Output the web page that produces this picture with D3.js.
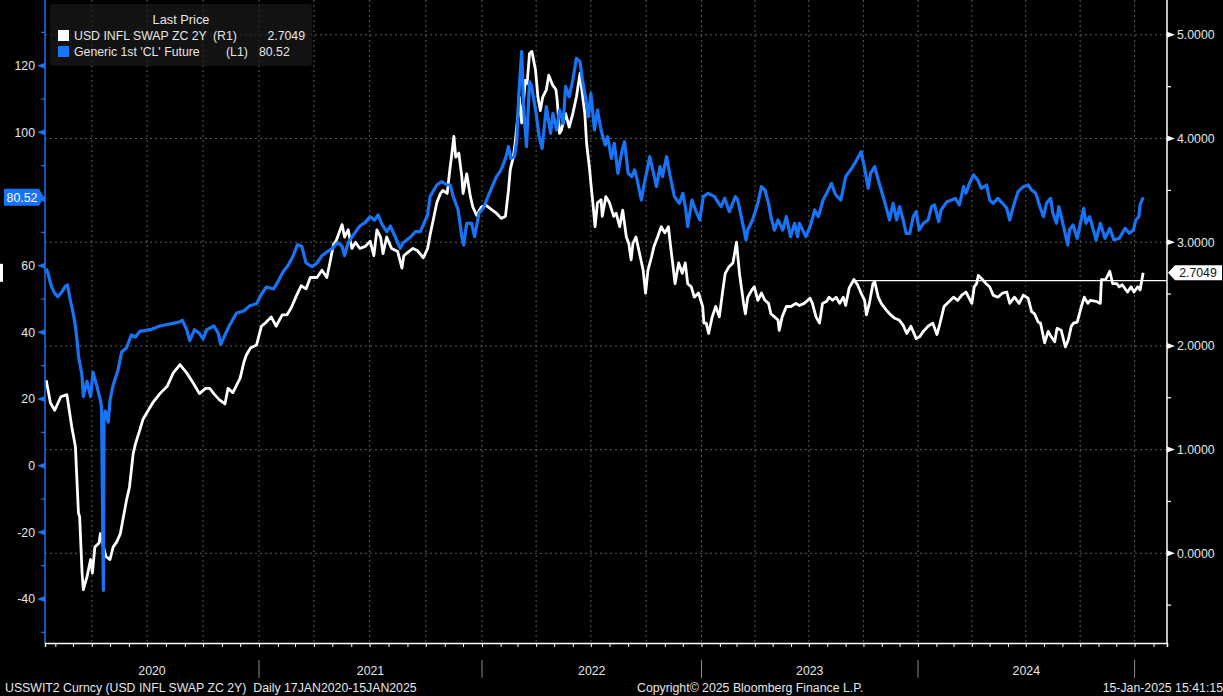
<!DOCTYPE html>
<meta charset="utf-8">
<head>
	<script src="https://cdn.jsdelivr.net/npm/d3@7/dist/d3.min.js"></script>
	<style>
		body { margin: 0; background: #000; }
		svg { display: block; }
		text { font-family: "Liberation Sans", Arial, sans-serif; font-size: 12.3px; fill: #e6e6e6; }
	</style>
</head>
<body>
	<svg id="svg"></svg>
</body>
<script>
	// Generic 1st 'CL' Future (left axis)
	var oilDates = [
		"2020-01-17","2020-01-20","2020-01-24","2020-01-27","2020-01-31","2020-02-05","2020-02-12","2020-02-17","2020-02-21","2020-02-25",
		"2020-03-02","2020-03-05","2020-03-09","2020-03-10","2020-03-16","2020-03-18","2020-03-24","2020-03-30","2020-04-03","2020-04-09",
		"2020-04-15","2020-04-17","2020-04-20","2020-04-21","2020-04-23","2020-04-28","2020-05-01","2020-05-06","2020-05-14","2020-05-20",
		"2020-05-28","2020-06-05","2020-06-12","2020-06-19","2020-07-06","2020-07-22","2020-08-07","2020-08-21","2020-08-28","2020-09-04",
		"2020-09-09","2020-09-17","2020-09-25","2020-10-01","2020-10-07","2020-10-19","2020-10-26","2020-10-30","2020-11-06","2020-11-13",
		"2020-11-25","2020-12-07","2020-12-17","2020-12-28",
		"2021-01-05","2021-01-13","2021-01-25","2021-02-01","2021-02-09","2021-02-18","2021-02-26","2021-03-05","2021-03-12","2021-03-19",
		"2021-03-29","2021-04-06","2021-04-14","2021-04-22","2021-05-01","2021-05-10","2021-05-17","2021-05-21","2021-05-27","2021-06-04",
		"2021-06-15","2021-06-24","2021-07-02","2021-07-09","2021-07-15","2021-07-21","2021-07-29","2021-08-04","2021-08-12","2021-08-20",
		"2021-08-25","2021-09-06","2021-09-14","2021-09-22","2021-10-04","2021-10-08","2021-10-19","2021-10-27","2021-11-05","2021-11-10",
		"2021-11-15","2021-11-23","2021-11-29","2021-12-02","2021-12-07","2021-12-15","2021-12-20","2021-12-27",
		"2022-01-03","2022-01-11","2022-01-18","2022-01-25","2022-01-31","2022-02-04","2022-02-10","2022-02-14","2022-02-18","2022-02-24",
		"2022-02-28","2022-03-03","2022-03-08","2022-03-11","2022-03-16","2022-03-21","2022-03-24","2022-04-01","2022-04-06","2022-04-11",
		"2022-04-18","2022-04-25","2022-04-29","2022-05-05","2022-05-10","2022-05-16","2022-05-20","2022-05-26","2022-06-01","2022-06-07",
		"2022-06-13","2022-06-17","2022-06-22","2022-06-27","2022-07-01","2022-07-07","2022-07-12","2022-07-18","2022-07-25","2022-07-29",
		"2022-08-04","2022-08-09","2022-08-15","2022-08-22","2022-08-26","2022-09-01","2022-09-07","2022-09-12","2022-09-16","2022-09-23",
		"2022-09-28","2022-10-07","2022-10-12","2022-10-18","2022-10-24","2022-10-28","2022-11-04","2022-11-10","2022-11-17","2022-11-25",
		"2022-12-01","2022-12-06","2022-12-09","2022-12-16","2022-12-22","2022-12-29",
		"2023-01-04","2023-01-12","2023-01-23","2023-01-30","2023-02-03","2023-02-09","2023-02-17","2023-02-27","2023-03-03","2023-03-09",
		"2023-03-17","2023-03-20","2023-03-28","2023-04-06","2023-04-12","2023-04-18","2023-04-24","2023-04-28","2023-05-04","2023-05-10",
		"2023-05-18","2023-05-24","2023-05-31","2023-06-07","2023-06-12","2023-06-15","2023-06-26","2023-07-03","2023-07-11","2023-07-17",
		"2023-07-25","2023-07-31","2023-08-08","2023-08-14","2023-08-18","2023-08-24","2023-09-01","2023-09-11","2023-09-18","2023-09-27",
		"2023-10-02","2023-10-09","2023-10-13","2023-10-20","2023-10-26","2023-10-31","2023-11-08","2023-11-14","2023-11-20","2023-11-26",
		"2023-12-01","2023-12-07","2023-12-12","2023-12-18","2023-12-24","2023-12-29",
		"2024-01-03","2024-01-10","2024-01-18","2024-01-24","2024-01-29","2024-02-05","2024-02-09","2024-02-19","2024-02-27","2024-03-04",
		"2024-03-11","2024-03-18","2024-03-22","2024-03-28","2024-04-04","2024-04-11","2024-04-17","2024-04-26","2024-05-01","2024-05-07",
		"2024-05-15","2024-05-23","2024-05-30","2024-06-04","2024-06-10","2024-06-18","2024-06-27","2024-07-05","2024-07-11","2024-07-18",
		"2024-07-25","2024-07-31","2024-08-05","2024-08-12","2024-08-16","2024-08-22","2024-08-26","2024-09-03","2024-09-10","2024-09-13",
		"2024-09-19","2024-09-26","2024-10-07","2024-10-11","2024-10-17","2024-10-28","2024-11-04","2024-11-12","2024-11-20","2024-11-27",
		"2024-12-06","2024-12-16","2024-12-23","2024-12-30",
		"2025-01-03","2025-01-08","2025-01-10","2025-01-15"
	];
	var oilValues = [
		59.1, 57.7, 54.7, 53.2, 51.7, 50.7, 52.2, 53.7, 54.2, 50.2,
		45.2, 41.9, 35.3, 33.0, 26.9, 20.8, 25.3, 20.8, 28.0, 24.1,
		19.7, 17.5, -37.4, 13.0, 16.4, 13.1, 19.7, 24.1, 28.6, 34.1,
		35.3, 39.2, 38.6, 40.3, 40.8, 41.9, 42.5, 43.0, 43.6, 40.8,
		37.5, 40.8, 39.7, 38.0, 40.8, 41.9, 39.7, 36.4, 39.2, 41.9,
		45.8, 46.4, 48.0, 48.6,
		51.4, 53.6, 53.0, 55.2, 58.0, 60.2, 63.0, 66.3, 65.8, 60.8,
		59.7, 60.8, 63.0, 64.1, 65.2, 66.9, 65.8, 63.0, 66.9, 69.1,
		71.9, 73.0, 74.7, 73.6, 75.2, 72.5, 70.2, 71.9, 68.6, 65.2,
		66.9, 68.6, 70.2, 70.2, 75.2, 80.7, 84.2, 85.2, 84.2, 84.2,
		80.7, 76.7, 68.7, 66.2, 72.7, 72.7, 68.7, 75.7,
		77.2, 80.7, 83.7, 86.7, 88.2, 89.7, 92.7, 95.7, 92.2, 92.7,
		97.7, 110.7, 124.2, 107.7, 95.7, 115.2, 114.2, 105.7, 98.7, 95.2,
		107.7, 99.7, 105.7, 100.7, 106.7, 102.7, 113.7, 110.7, 115.7, 122.2,
		121.2, 115.7, 110.7, 104.7, 111.7, 100.7, 106.7, 100.7, 96.2, 98.7,
		92.2, 96.7, 87.7, 94.7, 97.2, 87.7, 86.7, 88.7, 85.7, 79.7,
		84.7, 92.7, 88.7, 83.7, 89.7, 86.7, 92.7, 86.7, 80.7, 78.7,
		81.7, 76.7, 71.7, 79.7, 76.7, 73.7,
		80.7, 81.7, 80.7, 78.7, 77.7, 80.2, 76.2, 80.7, 79.7, 74.7,
		67.7, 70.7, 73.7, 78.7, 83.7, 82.7, 78.7, 74.7, 70.7, 73.7,
		70.7, 74.7, 68.7, 72.7, 68.7, 72.7, 68.7, 71.7, 76.7, 74.7,
		79.7, 81.7, 84.7, 81.7, 80.7, 79.7, 86.7, 89.2, 91.2, 94.2,
		90.2, 83.2, 87.7, 89.7, 85.7, 82.7, 77.7, 73.7, 78.7, 73.7,
		77.7, 73.7, 69.7, 69.7, 74.7, 76.2,
		70.7, 72.7, 73.7, 77.7, 78.2, 73.2, 76.7, 79.2, 79.7, 80.2,
		78.2, 83.7, 81.7, 84.7, 87.2, 85.7, 83.2, 84.2, 79.7, 78.7,
		80.2, 78.7, 77.2, 73.7, 77.7, 82.2, 83.7, 84.2, 82.7, 81.7,
		77.7, 74.7, 78.7, 80.2, 75.7, 72.7, 77.7, 71.7, 66.2, 70.7,
		72.2, 68.2, 77.2, 72.7, 74.7, 67.7, 72.7, 68.2, 71.2, 67.7,
		68.2, 71.2, 69.7, 70.7,
		73.7, 74.7, 78.2, 80.52
	];

	// USD INFL SWAP ZC 2Y (right axis)
	var swapDates = [
		"2020-01-17","2020-01-24","2020-01-31","2020-02-10","2020-02-20","2020-02-28","2020-03-05","2020-03-10","2020-03-12","2020-03-16",
		"2020-03-18","2020-03-24","2020-03-30","2020-04-02","2020-04-06","2020-04-13","2020-04-15","2020-04-24","2020-05-01","2020-05-06",
		"2020-05-12","2020-05-18","2020-05-22","2020-05-28","2020-06-02","2020-06-08","2020-06-12","2020-06-19","2020-06-24","2020-06-30",
		"2020-07-10","2020-07-22","2020-08-03","2020-08-13","2020-08-24","2020-09-04","2020-09-15","2020-09-25","2020-10-05","2020-10-12",
		"2020-10-20","2020-10-28","2020-11-06","2020-11-11","2020-11-19","2020-11-25","2020-12-01","2020-12-07","2020-12-11","2020-12-18",
		"2020-12-28",
		"2021-01-05","2021-01-13","2021-01-21","2021-01-29","2021-02-08","2021-02-16","2021-02-23","2021-03-03","2021-03-11","2021-03-19",
		"2021-03-26","2021-04-06","2021-04-14","2021-04-22","2021-04-27","2021-05-03","2021-05-07","2021-05-17","2021-05-21","2021-05-27",
		"2021-06-02","2021-06-08","2021-06-15","2021-06-24","2021-07-02","2021-07-08","2021-07-13","2021-07-19","2021-07-23","2021-07-29",
		"2021-08-06","2021-08-16","2021-08-23","2021-08-26","2021-09-03","2021-09-10","2021-09-17","2021-09-27","2021-10-04","2021-10-08",
		"2021-10-13","2021-10-19","2021-10-25","2021-10-29","2021-11-05","2021-11-10","2021-11-12","2021-11-16","2021-11-19","2021-11-24",
		"2021-11-29","2021-12-01","2021-12-07","2021-12-13","2021-12-17","2021-12-23","2021-12-31",
		"2022-01-07","2022-01-18","2022-01-25","2022-02-02","2022-02-09","2022-02-14","2022-02-17","2022-02-22","2022-02-25","2022-03-02",
		"2022-03-04","2022-03-08","2022-03-14","2022-03-17","2022-03-21","2022-03-25","2022-03-31","2022-04-04","2022-04-08","2022-04-12",
		"2022-04-18","2022-04-22","2022-04-28","2022-05-04","2022-05-06","2022-05-10","2022-05-13","2022-05-20","2022-05-26","2022-06-01",
		"2022-06-07","2022-06-13","2022-06-16","2022-06-21","2022-06-24","2022-06-29","2022-07-01","2022-07-05","2022-07-08","2022-07-12",
		"2022-07-18","2022-07-20","2022-07-26","2022-08-01","2022-08-08","2022-08-12","2022-08-18","2022-08-23","2022-08-29","2022-09-02",
		"2022-09-06","2022-09-09","2022-09-14","2022-09-20","2022-09-26","2022-09-30","2022-10-04","2022-10-10","2022-10-14","2022-10-20",
		"2022-10-26","2022-11-01","2022-11-07","2022-11-10","2022-11-14","2022-11-18","2022-11-24","2022-11-30","2022-12-05","2022-12-09",
		"2022-12-15","2022-12-20","2022-12-27",
		"2023-01-03","2023-01-05","2023-01-09","2023-01-13","2023-01-19","2023-01-25","2023-01-31","2023-02-06","2023-02-10","2023-02-16",
		"2023-02-23","2023-03-01","2023-03-06","2023-03-13","2023-03-16","2023-03-20","2023-03-27","2023-03-31","2023-04-06","2023-04-12",
		"2023-04-18","2023-04-24","2023-04-28","2023-05-04","2023-05-10","2023-05-12","2023-05-17","2023-05-24","2023-06-01","2023-06-09",
		"2023-06-15","2023-06-23","2023-07-03","2023-07-07","2023-07-13","2023-07-19","2023-07-24","2023-07-31","2023-08-04","2023-08-10",
		"2023-08-16","2023-08-22","2023-08-28","2023-09-01","2023-09-07","2023-09-15","2023-09-21","2023-09-27","2023-10-03","2023-10-06",
		"2023-10-11","2023-10-17","2023-10-20","2023-10-26","2023-10-31","2023-11-08","2023-11-14","2023-11-22","2023-11-30","2023-12-07",
		"2023-12-13","2023-12-20","2023-12-29",
		"2024-01-04","2024-01-10","2024-01-18","2024-01-26","2024-02-02","2024-02-06","2024-02-14","2024-02-23","2024-03-01","2024-03-08",
		"2024-03-15","2024-03-22","2024-04-01","2024-04-05","2024-04-09","2024-04-12","2024-04-19","2024-04-25","2024-05-01","2024-05-07",
		"2024-05-15","2024-05-23","2024-05-30","2024-06-04","2024-06-12","2024-06-20","2024-06-27","2024-07-05","2024-07-11","2024-07-16",
		"2024-07-22","2024-07-26","2024-08-02","2024-08-08","2024-08-13","2024-08-19","2024-08-23","2024-08-30","2024-09-06","2024-09-11",
		"2024-09-16","2024-09-20","2024-09-26","2024-10-03","2024-10-08","2024-10-14","2024-10-18","2024-10-28","2024-11-04","2024-11-06",
		"2024-11-13","2024-11-20","2024-11-25","2024-12-02","2024-12-06","2024-12-11","2024-12-20","2024-12-26","2024-12-31",
		"2025-01-06","2025-01-10","2025-01-15"
	];
	var swapValues = [
		1.67, 1.45, 1.38, 1.51, 1.53, 1.22, 1.03, 0.39, 0.35, -0.19,
		-0.35, -0.23, -0.06, -0.19, 0.06, 0.10, 0.19, -0.03, -0.06, 0.06,
		0.11, 0.19, 0.32, 0.51, 0.64, 0.96, 1.06, 1.19, 1.29, 1.35,
		1.45, 1.54, 1.61, 1.74, 1.82, 1.74, 1.64, 1.54, 1.59, 1.59,
		1.53, 1.48, 1.44, 1.59, 1.55, 1.62, 1.69, 1.84, 1.91, 1.98,
		2.01,
		2.19, 2.23, 2.28, 2.19, 2.30, 2.30, 2.37, 2.48, 2.58, 2.55,
		2.66, 2.66, 2.73, 2.66, 2.80, 2.98, 3.01, 3.17, 3.05, 3.12,
		2.94, 3.00, 2.94, 2.96, 3.01, 2.87, 3.12, 3.05, 2.89, 3.05,
		2.94, 2.91, 2.75, 2.87, 2.91, 2.94, 2.92, 2.85, 2.94, 3.07,
		3.21, 3.38, 3.47, 3.50, 3.47, 3.73, 3.82, 4.02, 3.82, 3.86,
		3.63, 3.47, 3.66, 3.44, 3.34, 3.26, 3.34,
		3.36, 3.31, 3.28, 3.23, 3.25, 3.50, 3.70, 3.82, 3.95, 4.24,
		4.40, 4.15, 4.56, 4.53, 4.82, 4.84, 4.66, 4.40, 4.27, 4.40,
		4.47, 4.61, 4.52, 4.47, 4.37, 4.05, 4.08, 4.24, 4.11, 4.24,
		4.40, 4.63, 4.47, 4.24, 3.95, 3.70, 3.57, 3.34, 3.15, 3.38,
		3.41, 3.25, 3.44, 3.38, 3.25, 3.28, 3.15, 3.31, 3.05, 2.99,
		2.83, 2.99, 3.05, 2.89, 2.73, 2.51, 2.73, 2.86, 2.96, 3.05,
		3.15, 3.09, 3.15, 2.99, 2.80, 2.60, 2.80, 2.70, 2.80, 2.60,
		2.57, 2.47, 2.51,
		2.38, 2.22, 2.22, 2.12, 2.28, 2.38, 2.28, 2.54, 2.70, 2.76,
		2.80, 3.00, 2.70, 2.41, 2.31, 2.47, 2.54, 2.57, 2.44, 2.51,
		2.44, 2.41, 2.31, 2.28, 2.25, 2.15, 2.28, 2.38, 2.38, 2.41,
		2.39, 2.41, 2.46, 2.41, 2.28, 2.22, 2.41, 2.43, 2.47, 2.44,
		2.47, 2.41, 2.47, 2.39, 2.56, 2.64, 2.59, 2.51, 2.44, 2.30,
		2.41, 2.60, 2.62, 2.47, 2.41, 2.35, 2.31, 2.27, 2.25, 2.20,
		2.12, 2.19, 2.07,
		2.09, 2.14, 2.19, 2.22, 2.11, 2.19, 2.38, 2.43, 2.47, 2.44,
		2.49, 2.52, 2.41, 2.57, 2.60, 2.68, 2.64, 2.60, 2.57, 2.49,
		2.47, 2.51, 2.52, 2.41, 2.47, 2.41, 2.49, 2.46, 2.33, 2.31,
		2.23, 2.22, 2.03, 2.14, 2.09, 2.04, 2.17, 2.15, 1.99, 2.06,
		2.19, 2.22, 2.23, 2.38, 2.47, 2.41, 2.44, 2.43, 2.41, 2.64,
		2.64, 2.72, 2.60, 2.60, 2.57, 2.59, 2.52, 2.57, 2.52,
		2.57, 2.54, 2.7049
	];

	// axis ticks (80 sits under the last-price tag, so it has no label)
	var leftTicks = [-40, -20, 0, 20, 40, 60, 80, 100, 120];
	var leftLabels = [-40, -20, 0, 20, 40, 60, 100, 120];
	var leftMinor = [-50, -30, -10, 10, 30, 50, 70, 90, 110, 130];
	var rightTicks = [0, 1, 2, 3, 4, 5];
	var rightMinor = [-0.5, 0.5, 1.5, 2.5, 3.5, 4.5];
	var yearLabels = ["2020", "2021", "2022", "2023", "2024"];

	var lastOil = 80.52, lastSwap = 2.7049;
	var refLevel = 2.63, refStart = "2023-09-15";

	var width = 1223, height = 696;
	var left = 45, right = 1167, bottom = 643;
	var blue = "#1874f6", grid = "#5a5a5a";

	var parse = d3.timeParse("%Y-%m-%d");

	// the time axis runs on trading days, so each year gets its own width
	var axisDates = ["2020-01-15", "2021-01-01", "2022-01-01", "2023-01-01", "2024-01-01", "2025-01-01", "2025-02-23"].map(parse);
	var x = d3.scaleTime().domain(axisDates).range([left, 259, 482, 701.5, 918, 1134.6, right]);
	var yL = d3.scaleLinear().domain([-53.2, 139.7]).range([bottom, 0]);
	var yR = d3.scaleLinear().domain([-0.865, 5.336]).range([bottom, 0]);

	var oil = oilDates.map((d, i) => ({ date: parse(d), v: oilValues[i] }));
	var swap = swapDates.map((d, i) => ({ date: parse(d), v: swapValues[i] }));

	var svg = d3.select("#svg")
		.attr("width", width)
		.attr("height", height)
		.style("background-color", "#000");

	// grid
	var quarters = d3.timeMonth.every(3).range(parse("2020-04-01"), parse("2025-01-02"));
	svg.append("g").selectAll("line").data(quarters).join("line")
		.attr("x1", d => x(d)).attr("x2", d => x(d))
		.attr("y1", 0).attr("y2", bottom)
		.attr("stroke", grid).attr("stroke-dasharray", "2,3");
	svg.append("g").selectAll("line").data(rightTicks).join("line")
		.attr("x1", left).attr("x2", right)
		.attr("y1", d => yR(d)).attr("y2", d => yR(d))
		.attr("stroke", grid).attr("stroke-dasharray", "2,3");

	// legend box (semi transparent, grid shows through)
	var lg = svg.append("g");
	lg.append("rect").attr("x", 50).attr("y", 4).attr("width", 262).attr("height", 62).attr("rx", 3)
		.attr("fill", "rgba(26,26,26,0.7)");
	lg.append("text").attr("x", 181).attr("y", 24).attr("text-anchor", "middle").style("font-size", "12.8px").text("Last Price");
	lg.append("rect").attr("x", 58).attr("y", 30).attr("width", 11).attr("height", 11).attr("fill", "#fff");
	lg.append("rect").attr("x", 58).attr("y", 46).attr("width", 11).attr("height", 11).attr("fill", blue);
	lg.append("text").attr("x", 74).attr("y", 40).text("USD INFL SWAP ZC 2Y");
	lg.append("text").attr("x", 213).attr("y", 40).text("(R1)");
	lg.append("text").attr("x", 305).attr("y", 40).attr("text-anchor", "end").text(lastSwap);
	lg.append("text").attr("x", 74).attr("y", 56).text("Generic 1st 'CL' Future");
	lg.append("text").attr("x", 226).attr("y", 56).text("(L1)");
	lg.append("text").attr("x", 259).attr("y", 56).text(lastOil);

	// series
	var line = yScale => d3.line().x(d => x(d.date)).y(d => yScale(d.v));
	svg.append("path").datum(swap)
		.attr("d", line(yR))
		.attr("fill", "none").attr("stroke", "#fff").attr("stroke-width", 2.8)
		.attr("stroke-linejoin", "round");
	svg.append("path").datum(oil)
		.attr("d", line(yL))
		.attr("fill", "none").attr("stroke", blue).attr("stroke-width", 3.2)
		.attr("stroke-linejoin", "round");

	// horizontal level line
	svg.append("line")
		.attr("x1", x(parse(refStart))).attr("x2", right)
		.attr("y1", yR(refLevel)).attr("y2", yR(refLevel))
		.attr("stroke", "#fff").attr("stroke-width", 1.2);

	// left axis
	var gl = svg.append("g");
	gl.append("line").attr("x1", left).attr("x2", left).attr("y1", 0).attr("y2", bottom)
		.attr("stroke", blue).attr("stroke-width", 1.5);
	gl.selectAll(".mn").data(leftMinor).join("line")
		.attr("x1", left - 4).attr("x2", left)
		.attr("y1", d => yL(d)).attr("y2", d => yL(d))
		.attr("stroke", blue).attr("stroke-width", 1.2);
	gl.selectAll(".tk").data(leftTicks).join("path")
		.attr("d", d => "M" + left + "," + (yL(d) - 3) + "L" + (left - 8) + "," + yL(d) + "L" + left + "," + (yL(d) + 3) + "Z")
		.attr("fill", blue);
	gl.selectAll(".lb").data(leftLabels).join("text")
		.attr("x", left - 10).attr("y", d => yL(d)).attr("dy", "0.35em")
		.attr("text-anchor", "end").text(d => d);

	// right axis
	var gr = svg.append("g");
	gr.append("line").attr("x1", right).attr("x2", right).attr("y1", 0).attr("y2", bottom)
		.attr("stroke", "#fff").attr("stroke-width", 1.5);
	gr.selectAll(".mn").data(rightMinor).join("line")
		.attr("x1", right).attr("x2", right + 4)
		.attr("y1", d => yR(d)).attr("y2", d => yR(d))
		.attr("stroke", "#fff").attr("stroke-width", 1.2);
	gr.selectAll(".tk").data(rightTicks).join("path")
		.attr("d", d => "M" + right + "," + (yR(d) - 3) + "L" + (right + 8) + "," + yR(d) + "L" + right + "," + (yR(d) + 3) + "Z")
		.attr("fill", "#fff");
	gr.selectAll(".lb").data(rightTicks).join("text")
		.attr("x", right + 10).attr("y", d => yR(d)).attr("dy", "0.35em")
		.text(d => d3.format(".4f")(d));

	// bottom axis
	var months = d3.timeMonth.range(parse("2020-02-01"), parse("2025-02-02"));
	svg.append("g")
		.attr("transform", "translate(0," + bottom + ")")
		.call(d3.axisBottom(x).tickValues(months).tickSize(4).tickFormat(""))
		.call(g => g.select(".domain").attr("stroke", "#fff").attr("stroke-width", 1.5))
		.call(g => g.selectAll(".tick line").attr("stroke", "#fff"));

	var yearStarts = yearLabels.map(y => parse(y + "-01-01"));
	var seps = yearStarts.slice(1).concat([parse("2025-01-01")]);
	svg.append("g").selectAll("line").data(seps).join("line")
		.attr("x1", d => x(d)).attr("x2", d => x(d))
		.attr("y1", 660).attr("y2", 678)
		.attr("stroke", "#8a8a8a");
	svg.append("g").selectAll("text").data(yearLabels).join("text")
		.attr("x", (d, i) => (Math.max(x(yearStarts[i]), left) + x(seps[i])) / 2)
		.attr("y", 675).attr("text-anchor", "middle")
		.text(d => d);

	// last value tags
	var cy = yL(lastOil);
	svg.append("path")
		.attr("d", "M4," + (cy - 8.5) + "L39," + (cy - 8.5) + "L44," + cy + "L39," + (cy + 8.5) + "L4," + (cy + 8.5) + "Z")
		.attr("fill", blue);
	svg.append("text").attr("x", 22).attr("y", cy).attr("dy", "0.35em").attr("text-anchor", "middle")
		.style("fill", "#fff").text(lastOil);

	var cr = yR(lastSwap);
	svg.append("path")
		.attr("d", "M1168," + cr + "L1175," + (cr - 7.5) + "L1222," + (cr - 7.5) + "L1222," + (cr + 7.5) + "L1175," + (cr + 7.5) + "Z")
		.attr("fill", "#fff");
	svg.append("text").attr("x", 1198).attr("y", cr).attr("dy", "0.35em").attr("text-anchor", "middle")
		.style("fill", "#111").text(lastSwap);
	svg.append("rect").attr("x", 0).attr("y", cr - 9).attr("width", 3).attr("height", 18).attr("fill", "#fff");

	// footer
	svg.append("text").attr("x", 5).attr("y", 692)
		.attr("xml:space", "preserve")
		.text("USSWIT2 Curncy (USD INFL SWAP ZC 2Y)  Daily 17JAN2020-15JAN2025");
	svg.append("text").attr("x", 637).attr("y", 692).text("Copyright\u00a9 2025 Bloomberg Finance L.P.");
	svg.append("text").attr("x", 1223).attr("y", 692).attr("text-anchor", "end").text("15-Jan-2025 15:41:15");
</script>
